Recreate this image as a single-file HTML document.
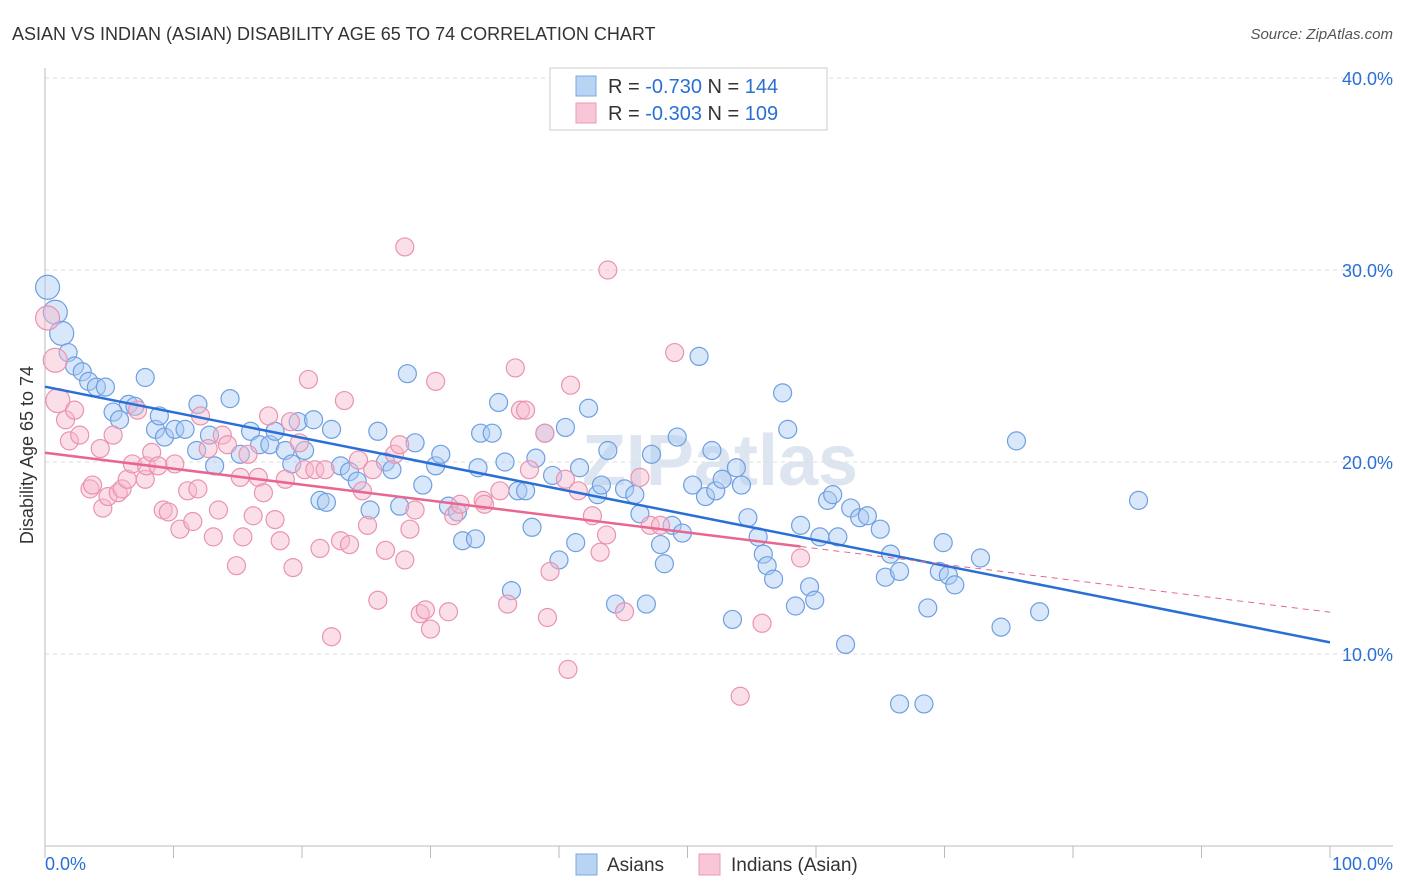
<!DOCTYPE html>
<html><head><meta charset="utf-8">
<style>
body{margin:0;background:#fff;font-family:"Liberation Sans",sans-serif;}
svg{display:block}
</style></head>
<body>
<svg id="chart" width="1406" height="892" xmlns="http://www.w3.org/2000/svg">
<text x="12" y="40" font-size="18" fill="#333">ASIAN VS INDIAN (ASIAN) DISABILITY AGE 65 TO 74 CORRELATION CHART</text>
<text x="1393" y="39" font-size="15" fill="#555" font-style="italic" text-anchor="end">Source: ZipAtlas.com</text>
<text x="720" y="485" font-size="72" fill="#dde6f0" text-anchor="middle" font-weight="bold">ZIPatlas</text>
<g id="grid"></g>
<g id="axes"></g>
<g id="marks"></g>
<text transform="translate(33,455) rotate(-90)" font-size="18" fill="#333" text-anchor="middle">Disability Age 65 to 74</text>
<g>
<rect x="550" y="68" width="277" height="62" fill="#fff" stroke="#ccc"/>
<rect x="576" y="76" width="20" height="20" fill="#b9d3f3" stroke="#7aa8e6"/>
<text x="608" y="93" font-size="20" fill="#333">R = <tspan fill="#2a6fd6">-0.730</tspan>   N = <tspan fill="#2a6fd6">144</tspan></text>
<rect x="576" y="103" width="20" height="20" fill="#f8c6d6" stroke="#eb98b4"/>
<text x="608" y="120" font-size="20" fill="#333">R = <tspan fill="#2a6fd6">-0.303</tspan>   N = <tspan fill="#2a6fd6">109</tspan></text>
</g>
<g>
<rect x="576" y="854" width="21" height="21" fill="#b9d3f3" stroke="#7aa8e6"/>
<text x="607" y="871" font-size="19" fill="#333">Asians</text>
<rect x="699" y="854" width="21" height="21" fill="#f8c6d6" stroke="#eb98b4"/>
<text x="731" y="871" font-size="19" fill="#333">Indians (Asian)</text>
</g>
</svg>
<script>
const yTicks=[10,20,30,40];
const yTickLabels=["10.0%","20.0%","30.0%","40.0%"];
const xTickValues=[0,10,20,30,40,50,60,70,80,90,100];
const asiansX=[0.2,0.8,1.3,1.8,2.3,2.9,3.4,4.0,4.7,6.5,7.0,5.3,5.8,7.8,8.6,9.3,8.9,10.1,10.9,11.9,12.8,11.8,13.2,14.4,15.2,16.0,16.7,17.5,17.9,18.7,19.2,19.7,20.2,20.9,21.4,21.9,22.3,23.0,23.7,24.3,25.3,25.9,26.5,27.0,28.2,27.6,28.8,29.4,30.4,30.8,31.4,32.1,32.5,33.5,33.7,33.9,34.8,35.3,35.8,36.3,36.8,37.4,37.9,38.2,38.9,39.5,40.0,40.5,41.3,41.6,42.3,43.0,43.3,43.8,44.4,45.1,45.9,46.3,46.8,47.2,47.9,48.2,48.8,49.2,49.6,50.4,50.9,51.4,51.9,52.2,52.7,53.5,53.8,54.2,54.7,55.5,55.9,56.2,56.7,57.4,57.8,58.4,58.8,59.5,59.9,60.3,60.9,61.3,61.7,62.3,62.7,63.4,64.0,65.0,65.4,65.8,66.5,66.5,68.4,68.7,69.6,69.9,70.3,70.8,72.8,74.4,75.6,77.4,85.1];
const asiansY=[29.1,27.8,26.7,25.7,25.0,24.7,24.2,23.9,23.9,23.0,22.9,22.6,22.2,24.4,21.7,21.3,22.4,21.7,21.7,23.0,21.4,20.6,19.8,23.3,20.4,21.6,20.9,20.9,21.6,20.6,19.9,22.1,20.6,22.2,18.0,17.9,21.7,19.8,19.5,19.0,17.5,21.6,20.0,19.6,24.6,17.7,21.0,18.8,19.8,20.4,17.7,17.4,15.9,16.0,19.7,21.5,21.5,23.1,20.0,13.3,18.5,18.5,16.6,20.2,21.5,19.3,14.9,21.8,15.8,19.7,22.8,18.3,18.8,20.6,12.6,18.6,18.3,17.3,12.6,20.4,15.7,14.7,16.7,21.3,16.3,18.8,25.5,18.2,20.6,18.5,19.1,11.8,19.7,18.8,17.1,16.1,15.2,14.6,13.9,23.6,21.7,12.5,16.7,13.5,12.8,16.1,18.0,18.3,16.1,10.5,17.6,17.1,17.2,16.5,14.0,15.2,14.3,7.4,7.4,12.4,14.3,15.8,14.1,13.6,15.0,11.4,21.1,12.2,18.0];
const indiansX=[0.2,0.8,1.0,1.6,1.9,2.3,2.7,3.5,3.7,4.3,4.5,4.9,5.3,5.7,6.0,6.4,6.8,7.2,7.8,7.9,8.3,8.8,9.2,9.6,10.1,10.5,11.1,11.5,11.9,12.1,12.7,13.1,13.5,13.8,14.2,14.9,15.2,15.4,15.8,16.2,16.6,17.0,17.4,17.9,18.3,18.7,19.1,19.3,19.8,20.2,20.5,21.0,21.4,21.8,22.3,23.0,23.3,23.7,24.4,24.7,25.1,25.5,25.9,26.5,27.2,27.6,28.0,28.0,28.4,28.8,29.2,29.6,30.0,30.4,31.4,31.8,32.3,34.1,34.2,35.4,36.0,36.6,37.0,37.4,37.7,38.9,39.1,39.3,40.5,40.7,40.9,41.5,42.6,43.2,43.7,43.8,45.1,46.3,47.1,47.9,49.0,54.1,55.8,58.8];
const indiansY=[27.5,25.3,23.2,22.2,21.1,22.7,21.4,18.6,18.8,20.7,17.6,18.2,21.4,18.4,18.6,19.1,19.9,22.7,19.1,19.8,20.5,19.8,17.5,17.4,19.9,16.5,18.5,16.9,18.6,22.4,20.7,16.1,17.5,21.4,20.9,14.6,19.2,16.1,20.4,17.2,19.2,18.4,22.4,17.0,15.9,19.1,22.1,14.5,21.0,19.6,24.3,19.6,15.5,19.6,10.9,15.9,23.2,15.7,20.1,18.5,16.7,19.6,12.8,15.4,20.4,20.9,14.9,31.2,16.5,17.5,12.1,12.3,11.3,24.2,12.2,17.2,17.8,18.0,17.8,18.5,12.6,24.9,22.7,22.7,19.6,21.5,11.9,14.3,19.1,9.2,24.0,18.5,17.2,15.3,16.2,30.0,12.2,19.2,16.7,16.7,25.7,7.8,11.6,15.0];

const NS='http://www.w3.org/2000/svg';
const X0=45,X1=1330,Y0=846,PPY=19.2;
const sx=v=>X0+(X1-X0)*v/100;
const sy=v=>Y0-v*PPY;
function mk(tag,attrs,parent){const e=document.createElementNS(NS,tag);for(const k in attrs)e.setAttribute(k,attrs[k]);parent.appendChild(e);return e;}
const grid=document.getElementById('grid'),axes=document.getElementById('axes'),marks=document.getElementById('marks');
yTicks.forEach((t,i)=>{
  const l=mk('line',{x1:X0,x2:1393,y1:sy(t),y2:sy(t),stroke:'#ddd','stroke-dasharray':'4,4'},grid);
  
  
  const tx=mk('text',{x:1393,y:sy(t)+7,'font-size':18,fill:'#2a6fd6','text-anchor':'end'},axes);
  tx.textContent=yTickLabels[i];
  
  
});
const ax=mk('line',{x1:X0,x2:1393,y1:Y0,y2:Y0,stroke:'#bbb'},axes);


const ay=mk('line',{x1:X0,x2:X0,y1:68,y2:Y0,stroke:'#bbb'},axes);


xTickValues.forEach(t=>{
  const l=mk('line',{x1:sx(t),x2:sx(t),y1:Y0,y2:Y0+12,stroke:'#bbb'},axes);
  
  
});
const xl0=mk('text',{x:X0,y:870,'font-size':18,fill:'#2a6fd6'},axes);xl0.textContent='0.0%';


const xl1=mk('text',{x:1393,y:870,'font-size':18,fill:'#2a6fd6','text-anchor':'end'},axes);xl1.textContent='100.0%';



function dots(xs,ys,fill,stroke,name){
  xs.forEach((x,i)=>{
    const r=x<1.5?12:9;
    const c=mk('circle',{cx:sx(x),cy:sy(ys[i]),r:r,fill:fill,'fill-opacity':0.45,stroke:stroke,'stroke-width':1.2},marks);
    
    
  });
}
dots(asiansX,asiansY,'#a9c9f2','#6f9fe2','asians-point');
dots(indiansX,indiansY,'#f6b9cd','#ea93b1','indians-point');

function fit(xs,ys){const n=xs.length;let mx=0,my=0;xs.forEach((x,i)=>{mx+=x;my+=ys[i];});mx/=n;my/=n;let sxy=0,sxx=0;xs.forEach((x,i)=>{sxy+=(x-mx)*(ys[i]-my);sxx+=(x-mx)**2;});const b=sxy/sxx;return [my-b*mx,b];}
const fb=fit(asiansX,asiansY),fp=fit(indiansX,indiansY);
const tb=mk('line',{x1:sx(0),y1:sy(fb[0]),x2:sx(100),y2:sy(fb[0]+fb[1]*100),stroke:'#2a6fd6','stroke-width':2.5},marks);


const xmaxP=Math.max(...indiansX);
const tp=mk('line',{x1:sx(0),y1:sy(fp[0]),x2:sx(xmaxP),y2:sy(fp[0]+fp[1]*xmaxP),stroke:'#e8668f','stroke-width':2.5},marks);


const tpd=mk('line',{x1:sx(xmaxP),y1:sy(fp[0]+fp[1]*xmaxP),x2:sx(100),y2:sy(fp[0]+fp[1]*100),stroke:'#e8668f','stroke-width':1,'stroke-dasharray':'6,5'},marks);


</script>
</body></html>
